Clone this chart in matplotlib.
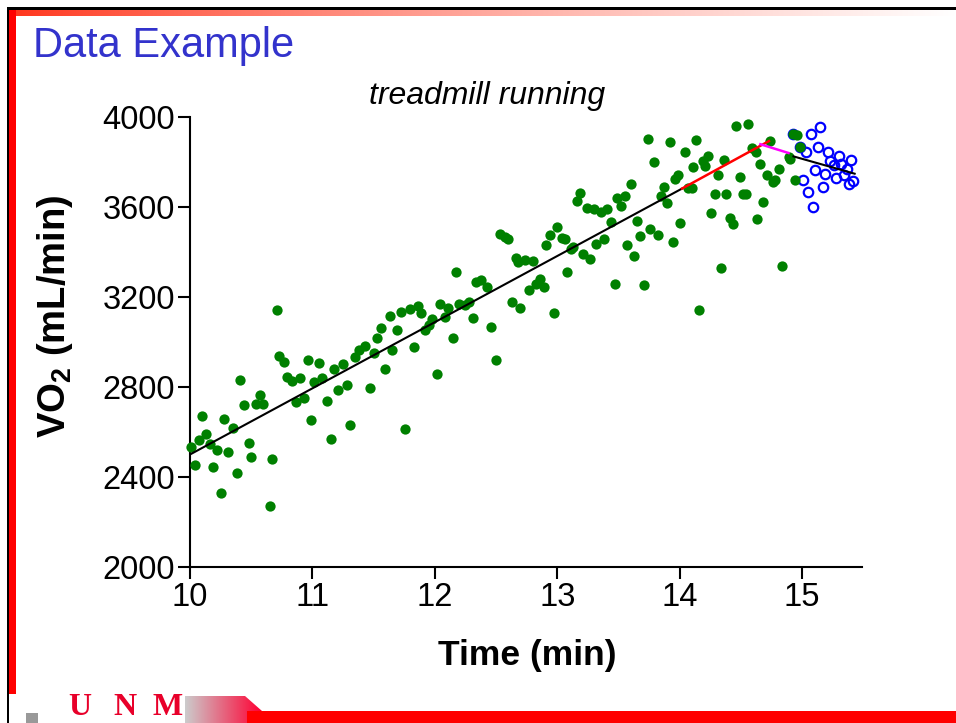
import matplotlib
matplotlib.use("Agg")
import matplotlib.pyplot as plt
import numpy as np
from matplotlib.patches import Rectangle, Wedge, Polygon

plt.rcParams['font.family'] = ['Liberation Sans', 'DejaVu Sans']
plt.rcParams['mathtext.fontset'] = 'custom'
plt.rcParams['mathtext.rm'] = 'Liberation Sans'
plt.rcParams['mathtext.bf'] = 'Liberation Sans:bold'

# ---------------- data ----------------
green_time = [10.71, 10.73, 10.77, 10.41, 10.79, 10.83, 10.90, 10.96, 11.05, 11.01,
              11.08, 11.18, 11.25, 11.35, 11.38, 10.57, 10.44, 10.54, 10.60, 10.87,
              10.93, 11.21, 11.28, 11.12, 10.10, 10.28, 10.35, 10.99, 11.31, 10.07,
              10.13, 10.16, 10.22, 10.31, 10.48, 10.01, 11.15, 10.04, 10.19, 10.50,
              10.67, 10.38, 10.25, 10.65,
              12.53, 12.57, 12.60, 12.66, 12.68, 12.17, 12.34, 12.38, 12.43, 12.04,
              12.11, 12.20, 12.25, 12.28, 12.63, 12.70, 11.86, 11.89, 11.72, 11.80,
              11.63, 12.08, 12.31, 11.98, 11.95, 11.92, 11.56, 11.69, 12.46, 11.53,
              11.43, 11.65, 11.83, 11.50, 12.15, 11.59, 12.02, 12.50, 11.47, 11.76,
              13.74, 13.92, 13.79, 13.60, 13.96, 13.99, 13.87, 13.85, 13.90, 13.19,
              13.16, 13.49, 13.55, 13.52, 13.24, 13.30, 13.36, 13.41, 13.44, 13.65,
              13.76, 13.82, 13.68, 13.95, 14.00, 13.00, 12.94, 13.04, 13.06, 12.91,
              13.38, 13.32, 13.11, 13.13, 13.57, 13.63, 13.21, 13.27, 12.74, 12.80,
              13.08, 12.86, 12.83, 12.77, 12.89, 13.47, 13.71, 12.97,
              14.46, 14.56, 14.13, 14.04, 14.23, 14.19, 14.21, 14.11, 14.36, 14.59,
              14.62, 14.74, 14.66, 14.81, 14.71, 14.78, 14.76, 14.31, 14.49, 14.07,
              14.10, 14.29, 14.38, 14.52, 14.54, 14.68, 14.26, 14.41, 14.44, 14.63,
              14.34, 14.84, 14.93, 14.96, 14.98, 14.89, 14.90, 14.94, 14.16]
green_vo2 = [3144, 2937, 2913, 2833, 2845, 2827, 2842, 2920, 2907, 2822,
             2839, 2880, 2901, 2933, 2963, 2766, 2722, 2725, 2726, 2732,
             2751, 2785, 2811, 2737, 2669, 2658, 2617, 2652, 2631, 2563,
             2589, 2545, 2522, 2511, 2550, 2533, 2569, 2453, 2443, 2489,
             2479, 2420, 2328, 2273,
             3479, 3467, 3460, 3375, 3356, 3313, 3265, 3274, 3245, 3171,
             3149, 3168, 3166, 3178, 3178, 3153, 3159, 3131, 3135, 3147,
             3117, 3110, 3107, 3102, 3077, 3052, 3062, 3052, 3065, 3018,
             2982, 2966, 2978, 2950, 3020, 2879, 2860, 2919, 2796, 2615,
             3904, 3889, 3800, 3702, 3726, 3741, 3689, 3648, 3620, 3664,
             3628, 3640, 3648, 3603, 3597, 3593, 3576, 3591, 3532, 3538,
             3504, 3476, 3470, 3446, 3531, 3511, 3474, 3464, 3460, 3429,
             3458, 3437, 3413, 3422, 3429, 3382, 3393, 3371, 3366, 3359,
             3311, 3282, 3260, 3230, 3245, 3258, 3253, 3128,
             3959, 3969, 3900, 3844, 3827, 3804, 3781, 3780, 3809, 3862,
             3844, 3893, 3790, 3769, 3744, 3722, 3713, 3744, 3735, 3686,
             3684, 3660, 3656, 3660, 3658, 3621, 3575, 3553, 3524, 3547,
             3331, 3338, 3926, 3919, 3867, 3822, 3815, 3719, 3144]

blue_time = [15.15, 15.07, 15.13, 15.03, 15.21, 15.30, 15.40, 15.23, 15.26, 15.32,
             15.37, 15.11, 15.19, 15.28, 15.34, 15.38, 15.42, 15.01, 15.05, 15.17,
             15.09, 14.93, 14.98]
blue_vo2 = [3956, 3926, 3865, 3846, 3846, 3825, 3809, 3804, 3785, 3790,
            3771, 3766, 3745, 3731, 3741, 3704, 3716, 3720, 3667, 3688,
            3600, 3926, 3867]

fit_main_time = [10.0, 14.02]
fit_main_vo2 = [2500, 3682]
fit_red_time = [14.02, 14.73]
fit_red_vo2 = [3682, 3893]
fit_mag_time = [14.66, 14.89]
fit_mag_vo2 = [3879, 3840]
fit_end_time = [14.93, 15.43]
fit_end_vo2 = [3825, 3748]

x_ticks = [10, 11, 12, 13, 14, 15]
y_ticks = [2000, 2400, 2800, 3200, 3600, 4000]

W, H = 956, 723
fig = plt.figure(figsize=(W / 100, H / 100), dpi=100)

# ---------------- slide decoration ----------------
deco = fig.add_axes([0, 0, 1, 1])
deco.set_xlim(0, W)
deco.set_ylim(H, 0)
deco.axis('off')
deco.add_patch(Rectangle((7, 6.5), W - 7, 3, color='black', lw=0))
grad = np.linspace(0, 1, 256)
top_img = np.ones((1, 256, 3))
top_img[0, :, 0] = 1.0
top_img[0, :, 1] = 0.2 + 0.8 * grad ** 0.8
top_img[0, :, 2] = 0.1 + 0.9 * grad ** 0.8
deco.imshow(top_img, extent=(9.5, W, 16, 9.5), aspect='auto', interpolation='bilinear')
deco.add_patch(Rectangle((7, 6.5), 2.5, H, color='black', lw=0))
deco.add_patch(Rectangle((9.5, 9.5), 6.5, 684, color='#FF0000', lw=0))
logo_img = np.ones((1, 256, 3))
g2 = np.linspace(0, 1, 256)
logo_img[0, :, 0] = 0.8 + 0.2 * g2
logo_img[0, :, 1] = 0.8 * (1 - g2)
logo_img[0, :, 2] = 0.8 * (1 - g2) + 0.2 * g2
im = deco.imshow(logo_img, extent=(185, 262, H, 696), aspect='auto', interpolation='bilinear')
clip_poly = Polygon([(185, 696), (245, 696), (262, 711), (262, H), (185, H)], closed=True,
                    transform=deco.transData)
im.set_clip_path(clip_poly)
deco.add_patch(Rectangle((247, 711), W - 247, 12, color='#FF0000', lw=0))
deco.add_patch(Wedge((33, 724), 20, 0, 180, width=8, color='#E8002A', lw=0))
deco.add_patch(Rectangle((26, 713), 12, 10, color='#999999', lw=0))
for letter, lx in zip(['U', 'N', 'M'], [80, 125, 168]):
    deco.text(lx, 722, letter, family='Liberation Serif', weight='bold', fontsize=23,
              color='#E8002A', ha='center', va='bottom')

# ---------------- main axes ----------------
x0, x1, ytop, ybot = 190, 862, 117, 567
ax = fig.add_axes([x0 / W, 1 - ybot / H, (x1 - x0) / W, (ybot - ytop) / H])
ax.set_facecolor('none')
ax.set_xlim(10, 15.49)
ax.set_ylim(2000, 4000)

ax.plot(blue_time, blue_vo2, 'o', mfc='none', mec='#0000FF', ms=6.8, mew=1.6,
        clip_on=False, zorder=2)
ax.plot(green_time, green_vo2, 'o', color='#008000', mec='none', ms=7.4,
        clip_on=False, zorder=3)
ax.plot(fit_main_time, fit_main_vo2, color='black', lw=1.5, zorder=4)
ax.plot(fit_red_time, fit_red_vo2, color='#FF0000', lw=1.8, zorder=4)
ax.plot(fit_mag_time, fit_mag_vo2, color='#FF00FF', lw=1.8, zorder=4)
ax.plot(fit_end_time, fit_end_vo2, color='black', lw=1.5, zorder=4)

ax.set_xticks(x_ticks)
ax.set_yticks(y_ticks)
ax.set_xticklabels([str(t) for t in x_ticks])
ax.set_yticklabels([str(t) for t in y_ticks])
for s in ['top', 'right']:
    ax.spines[s].set_visible(False)
for s in ['left', 'bottom']:
    ax.spines[s].set_linewidth(1.5)
ax.tick_params(direction='out', length=8.6, width=1.5, labelsize=23.5, pad=2)

fig.text(33 / W, 1 - 46 / H, 'Data Example', color='#3333CC', fontsize=30,
         ha='left', va='center')
fig.text(487 / W, 1 - 96 / H, 'treadmill running', style='italic', fontsize=23,
         ha='center', va='center')
fig.text(527 / W, 1 - 655 / H, 'Time (min)', weight='bold', fontsize=25.5,
         ha='center', va='center')
fig.text(55 / W, 1 - 316 / H, r'VO$_{\mathbf{2}}$ (mL/min)', weight='bold', fontsize=27.5,
         rotation=90, ha='center', va='center')

fig.savefig('out.png', dpi=100)
